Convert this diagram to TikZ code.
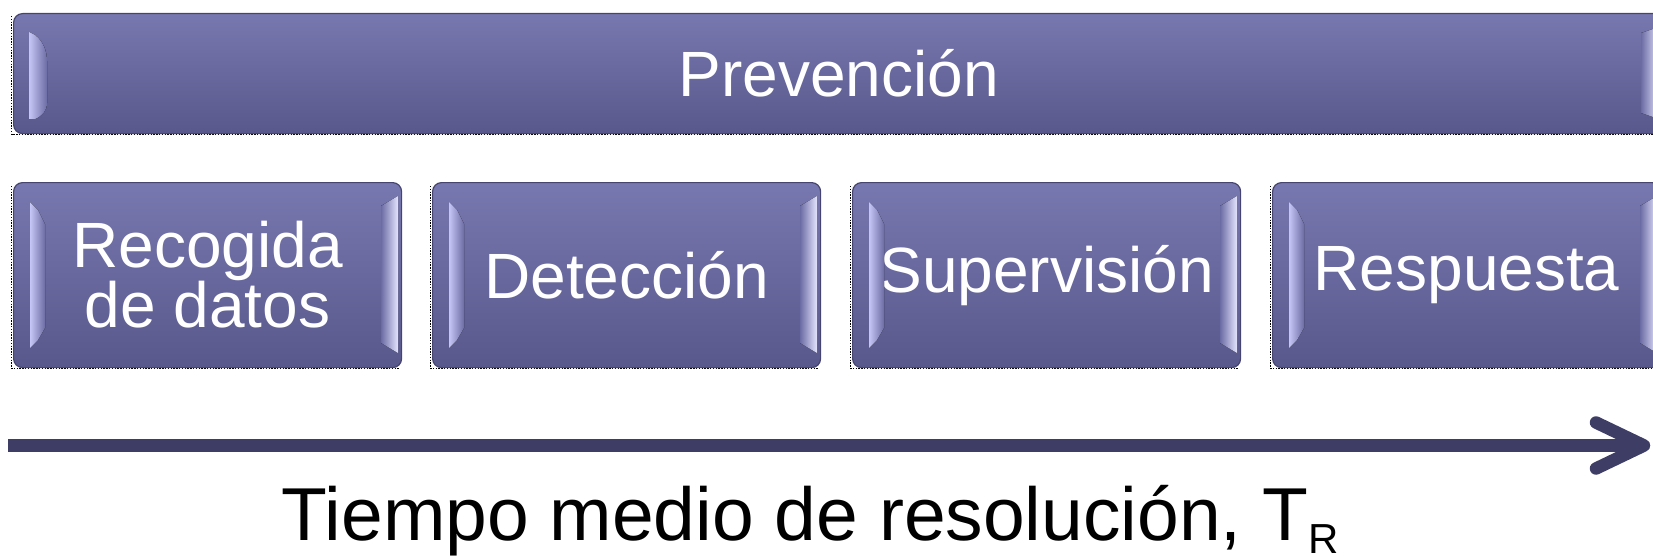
\documentclass[tikz,border=0pt]{standalone}
\usepackage{fontspec}
\setmainfont{Liberation Sans}
\usetikzlibrary{calc}
\definecolor{boxtop}{HTML}{7878B0}
\definecolor{boxmid}{HTML}{6C6CA4}
\definecolor{boxbot}{HTML}{58588C}
\definecolor{boxedge}{HTML}{45456F}
\definecolor{hlight}{HTML}{C6C6F6}
\definecolor{hedge}{HTML}{E4E4FE}
\definecolor{arrowc}{HTML}{3D3D66}
\tikzset{
  bevel/.style={draw=boxedge, line width=1.2pt, rounded corners=9pt,
    top color=boxtop, middle color=boxmid, bottom color=boxbot,
    text=white, font=\fontsize{64}{60}\selectfont, align=center,
    inner sep=0pt, anchor=north west},
  stagebox/.style={bevel, minimum width=388pt, minimum height=185pt},
  selfr/.style={black, line width=1.4pt, dash pattern=on 1.4pt off 1.4pt},
  timeline/.style={arrowc, line width=12.5pt},
  timehead/.style={arrowc, line width=12.5pt, line cap=round, line join=round},
  lefthl/.style={left color=hlight, right color=boxmid, draw=none},
  righthl/.style={left color=boxmid, right color=hedge, draw=none}
}
\begin{document}
\begin{tikzpicture}[x=1pt,y=-1pt]
\useasboundingbox (0,0) rectangle (1653,559);
\begin{scope}
\clip (0,0) rectangle (1653,559);

% dotted selection frames (left and bottom)
\draw[selfr] (11.5,16) -- (11.5,134.5) -- (1660,134.5);
\foreach \xx in {13,432,852,1272}{
  \draw[selfr] (\xx-1.5,186) -- (\xx-1.5,368.5) -- (\xx+386,368.5);
}

\node[bevel, minimum width=1650pt, minimum height=120pt] (prev) at (13,13) {Prevención};
\node[stagebox] (b1) at (13,182)   {Recogida\\de datos};
\node[stagebox] (b2) at (432,182)  {Detección};
\node[stagebox] (b3) at (852,182)  {Supervisión};
\node[stagebox] (b4) at (1272,182) {Respuesta};

% highlights on the top bar
\begin{scope}[shift={(prev.north west)}]
  \fill[lefthl] (16,19) -- (22,22) .. controls (30,28) and (34,38) .. (34,48)
    -- (34,90) .. controls (34,98) and (29,103) .. (22,106) -- (16,106) -- cycle;
  \fill[righthl] (1628,20) -- (1646,14) -- (1646,106) -- (1628,100) -- cycle;
\end{scope}

% highlights on the stage boxes
\foreach \n in {b1,b2,b3,b4}{
  \begin{scope}[shift={(\n.north west)}]
    \fill[lefthl] (17,20) -- (25,28) -- (32,42) -- (32,146) -- (25,158) -- (17,166) -- cycle;
    \fill[righthl] (368,24) -- (385,14) -- (385,171) -- (368,161) -- cycle;
  \end{scope}
}

% time arrow
\coordinate (tS) at (8,445.5);
\coordinate (tE) at (1644,445.5);
\draw[timeline] (tS) -- (tE);
\draw[timehead] ($(tE)+(-48,-23)$) -- (tE) -- ($(tE)+(-48,23)$);

\node[anchor=base west, inner sep=0pt, font=\fontsize{75}{80}\selectfont] (lbl) at (281.5,540)
  {Tiempo medio de resolución, T\raisebox{-13pt}{\fontsize{42}{42}\selectfont R}};
\end{scope}
\end{tikzpicture}
\end{document}
